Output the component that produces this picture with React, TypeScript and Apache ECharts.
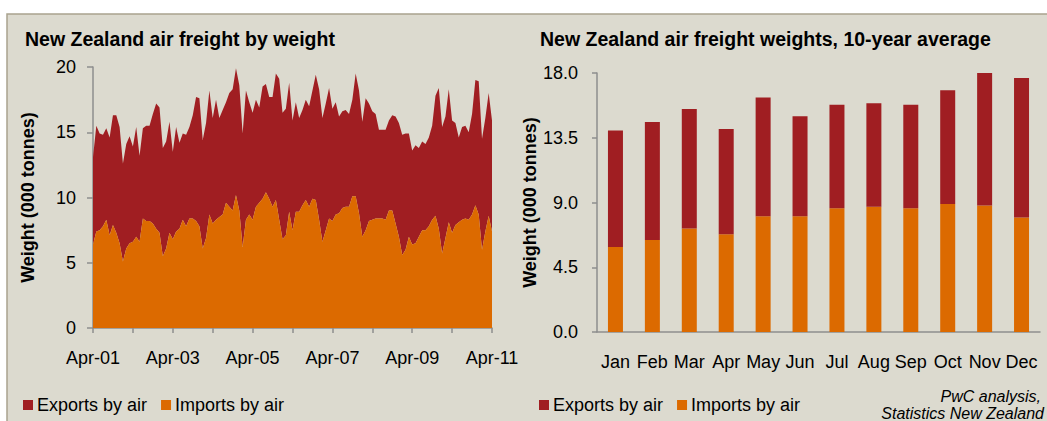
import React, { useEffect, useRef } from 'react';
import * as echarts from 'echarts';

const MONTH_NAMES = ['Jan', 'Feb', 'Mar', 'Apr', 'May', 'Jun', 'Jul', 'Aug', 'Sep', 'Oct', 'Nov', 'Dec'];

// Monthly categories Apr-01 .. Apr-11 (121 months)
const timeCategories: string[] = [];
for (let k = 0; k < 121; k++) {
  const m = (3 + k) % 12;
  const y = 1 + Math.floor((3 + k) / 12);
  timeCategories.push(`${MONTH_NAMES[m]}-${String(y).padStart(2, '0')}`);
}

// 000 tonnes, monthly
const importsMonthly = [
  6.4, 7.4, 7.5, 7.8, 8.3, 7.1, 7.9, 7.3, 6.5, 5.1,
  6.1, 6.5, 6.6, 7.0, 6.6, 8.4, 8.2, 8.2, 8.0, 7.6,
  7.3, 5.5, 6.1, 7.3, 6.8, 7.4, 7.6, 8.3, 7.8, 8.4,
  8.4, 8.2, 7.8, 6.1, 6.9, 8.7, 8.0, 8.3, 8.5, 8.7,
  9.6, 9.3, 9.0, 10.2, 9.0, 6.2, 8.3, 8.7, 8.3, 9.3,
  9.6, 9.9, 10.4, 9.9, 9.3, 9.8, 8.3, 6.8, 7.1, 8.9,
  7.5, 8.9, 8.9, 9.4, 9.8, 9.3, 9.9, 9.8, 8.3, 6.6,
  7.5, 8.4, 8.2, 8.7, 8.8, 9.2, 9.3, 9.3, 10.1, 10.1,
  8.8, 7.0, 7.5, 8.2, 8.3, 8.4, 8.4, 8.4, 8.3, 9.0,
  9.0, 8.0, 7.0, 5.6, 6.0, 7.0, 6.4, 6.5, 7.0, 7.5,
  7.5, 7.8, 8.3, 8.6, 7.6, 5.7, 6.9, 8.1, 7.3, 7.9,
  8.1, 8.3, 8.4, 8.3, 8.7, 9.4, 8.7, 6.0, 7.4, 8.6,
  7.4,
];

const exportsMonthly = [
  6.7, 8.1, 7.4, 7.0, 7.0, 7.5, 8.4, 9.0, 8.9, 7.5,
  8.0, 8.2, 7.3, 8.4, 6.6, 6.9, 7.3, 7.3, 8.4, 9.6,
  9.6, 8.3, 8.2, 8.5, 6.7, 8.0, 6.6, 6.6, 7.0, 7.0,
  7.9, 9.5, 9.8, 8.3, 8.8, 9.5, 8.1, 9.2, 7.6, 8.0,
  7.7, 8.7, 9.3, 9.7, 9.6, 8.7, 9.9, 8.6, 8.2, 8.2,
  7.3, 8.6, 8.3, 7.8, 8.4, 9.7, 10.8, 9.7, 9.7, 9.9,
  8.4, 8.4, 7.2, 7.3, 7.7, 7.7, 8.3, 9.6, 10.0, 9.5,
  9.7, 10.0, 8.6, 8.6, 7.4, 7.4, 7.4, 7.1, 7.4, 9.4,
  9.4, 8.8, 10.1, 9.0, 8.3, 8.0, 6.8, 6.8, 6.9, 6.9,
  7.3, 8.2, 8.7, 9.2, 8.9, 7.9, 7.2, 7.5, 6.8, 6.8,
  6.6, 6.8, 7.2, 9.2, 10.8, 9.7, 9.3, 10.2, 8.6, 7.8,
  6.5, 7.1, 7.1, 6.7, 7.7, 9.6, 10.2, 8.5, 8.7, 9.4,
  8.5,
];

// 10-year monthly averages
const avgMonths = ['Jan', 'Feb', 'Mar', 'Apr', 'May', 'Jun', 'Jul', 'Aug', 'Sep', 'Oct', 'Nov', 'Dec'];
const importsAvg = [5.9, 6.4, 7.2, 6.8, 8.05, 8.05, 8.6, 8.7, 8.6, 8.9, 8.8, 7.95];
const exportsAvg = [8.1, 8.2, 8.3, 7.3, 8.25, 6.95, 7.2, 7.2, 7.2, 7.9, 9.2, 9.7];

const leftYTicks = [0, 5, 10, 15, 20];
const rightYTicks = [0, 4.5, 9, 13.5, 18];

const RED = '#A01E22';
const ORANGE = '#DC6A00';
const BG = '#DCDACF';
const AXIS = '#8E8E8E';
const FONT = "'Liberation Sans', Arial, sans-serif";

export default function App() {
  const ref = useRef<HTMLDivElement>(null);

  useEffect(() => {
    if (!ref.current) return;
    const chart = echarts.init(ref.current, undefined, { renderer: 'svg' });
    const txt = { color: '#000', fontFamily: FONT, fontSize: 18 };
    const legendBase = {
      top: 396,
      padding: 0,
      data: ['Exports by air', 'Imports by air'],
      icon: 'rect',
      itemWidth: 10,
      itemHeight: 10,
      itemGap: 14,
      textStyle: { ...txt, padding: [0, 0, 0, -1] },
      selectedMode: false,
    };
    const option: any = {
      animation: false,
      backgroundColor: '#ffffff',
      textStyle: { fontFamily: FONT },
      graphic: [
        {
          type: 'rect',
          z: -10,
          silent: true,
          shape: { x: 7, y: 14, width: 1050, height: 420 },
          style: { fill: BG, stroke: '#A9A38F', lineWidth: 1.5 },
        },
        {
          type: 'text',
          x: 25,
          y: 39,
          style: {
            text: 'New Zealand air freight by weight',
            fill: '#000',
            font: `bold 19.5px ${FONT}`,
            textVerticalAlign: 'middle',
          },
        },
        {
          type: 'text',
          x: 540,
          y: 39,
          style: {
            text: 'New Zealand air freight weights, 10-year average',
            fill: '#000',
            font: `bold 19.5px ${FONT}`,
            textVerticalAlign: 'middle',
          },
        },
        {
          type: 'text',
          x: 1041,
          y: 396,
          style: {
            text: 'PwC analysis,',
            fill: '#000',
            font: `italic 16px ${FONT}`,
            textAlign: 'right',
            textVerticalAlign: 'middle',
          },
        },
        {
          type: 'text',
          x: 1044,
          y: 413,
          style: {
            text: 'Statistics New Zealand',
            fill: '#000',
            font: `italic 16px ${FONT}`,
            textAlign: 'right',
            textVerticalAlign: 'middle',
          },
        },
      ],
      legend: [
        { ...legendBase, left: 23 },
        { ...legendBase, left: 539 },
      ],
      grid: [
        { left: 93, top: 67, width: 399, height: 261 },
        { left: 597, top: 73, width: 443, height: 259 },
      ],
      xAxis: [
        {
          gridIndex: 0,
          type: 'category',
          data: timeCategories,
          boundaryGap: false,
          axisLine: { lineStyle: { color: AXIS, width: 1.5 } },
          axisTick: {
            show: true,
            length: 5,
            interval: (i: number) => i % 12 === 0,
            lineStyle: { color: AXIS, width: 1.5 },
          },
          axisLabel: { ...txt, margin: 21, interval: (i: number) => i % 24 === 0 },
          splitLine: { show: false },
        },
        {
          gridIndex: 1,
          type: 'category',
          data: avgMonths,
          axisLine: { lineStyle: { color: AXIS, width: 1.5 } },
          axisTick: { show: false },
          axisLabel: { ...txt, margin: 21, interval: 0 },
          splitLine: { show: false },
        },
      ],
      yAxis: [
        {
          gridIndex: 0,
          type: 'value',
          min: leftYTicks[0],
          max: leftYTicks[leftYTicks.length - 1],
          interval: 5,
          name: 'Weight (000 tonnes)',
          nameLocation: 'middle',
          nameRotate: 90,
          nameGap: 56,
          nameTextStyle: { ...txt, fontWeight: 'bold' },
          axisLine: { show: true, lineStyle: { color: AXIS, width: 1.5 } },
          axisTick: { show: true, length: 6, lineStyle: { color: AXIS, width: 1.5 } },
          axisLabel: { ...txt, margin: 17 },
          splitLine: { show: false },
        },
        {
          gridIndex: 1,
          type: 'value',
          min: rightYTicks[0],
          max: rightYTicks[rightYTicks.length - 1],
          interval: 4.5,
          name: 'Weight (000 tonnes)',
          nameLocation: 'middle',
          nameRotate: 90,
          nameGap: 50,
          nameTextStyle: { ...txt, fontWeight: 'bold' },
          axisLine: { show: true, lineStyle: { color: AXIS, width: 1.5 } },
          axisTick: { show: true, length: 5, lineStyle: { color: AXIS, width: 1.5 } },
          axisLabel: { ...txt, margin: 19, formatter: (v: number) => v.toFixed(1) },
          splitLine: { show: false },
        },
      ],
      series: [
        {
          name: 'Imports by air',
          type: 'line',
          xAxisIndex: 0,
          yAxisIndex: 0,
          stack: 'monthly',
          data: importsMonthly,
          showSymbol: false,
          symbol: 'none',
          lineStyle: { width: 0, color: ORANGE },
          itemStyle: { color: ORANGE },
          areaStyle: { color: ORANGE, opacity: 1 },
          z: 3,
        },
        {
          name: 'Exports by air',
          type: 'line',
          xAxisIndex: 0,
          yAxisIndex: 0,
          stack: 'monthly',
          data: exportsMonthly,
          showSymbol: false,
          symbol: 'none',
          lineStyle: { width: 0, color: RED },
          itemStyle: { color: RED },
          areaStyle: { color: RED, opacity: 1 },
          z: 2,
        },
        {
          name: 'Imports by air',
          type: 'bar',
          xAxisIndex: 1,
          yAxisIndex: 1,
          stack: 'avg',
          data: importsAvg,
          barWidth: 15,
          itemStyle: { color: ORANGE },
        },
        {
          name: 'Exports by air',
          type: 'bar',
          xAxisIndex: 1,
          yAxisIndex: 1,
          stack: 'avg',
          data: exportsAvg,
          barWidth: 15,
          itemStyle: { color: RED },
        },
      ],
    };
    chart.setOption(option);
    return () => chart.dispose();
  }, []);

  return (
    <div
      ref={ref}
      style={{ position: 'fixed', left: 0, top: 0, width: 1047, height: 421 }}
    />
  );
}
